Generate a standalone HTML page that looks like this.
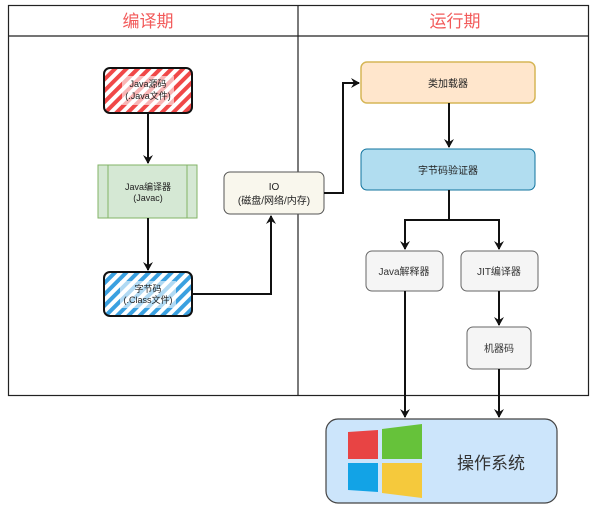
<!DOCTYPE html>
<html><head><meta charset="utf-8"><style>
body{margin:0;background:#fff;}
svg text{font-family:"Liberation Sans","Noto Sans CJK SC",sans-serif;}
</style></head><body>
<svg width="603" height="520" viewBox="0 0 603 520" xmlns="http://www.w3.org/2000/svg">
<defs>
<pattern id="pr" width="8" height="8" patternUnits="userSpaceOnUse" patternTransform="rotate(45)">
<rect width="8" height="8" fill="#fff"/><rect width="4" height="8" fill="#f04848"/></pattern>
<pattern id="pb" width="8" height="8" patternUnits="userSpaceOnUse" patternTransform="rotate(45)">
<rect width="8" height="8" fill="#fff"/><rect width="4" height="8" fill="#3aa0e0"/></pattern>
<marker id="a" markerWidth="10" markerHeight="10" refX="8" refY="5" orient="auto" markerUnits="userSpaceOnUse">
<path d="M0,0 L9,5 L0,10 L3,5 Z" fill="#111"/></marker>
</defs>
<rect x="8.5" y="5.5" width="580" height="390" fill="#fff" stroke="#222" stroke-width="1.2"/>
<line x1="8" y1="36" x2="588" y2="36" stroke="#222" stroke-width="1.2"/>
<line x1="298" y1="5" x2="298" y2="395" stroke="#222" stroke-width="1.2"/>
<text x="148" y="27" font-size="17" fill="#f25a5a" text-anchor="middle">编译期</text>
<text x="455" y="27" font-size="17" fill="#f25a5a" text-anchor="middle">运行期</text>

<rect x="104" y="68" width="88" height="45" rx="6" fill="url(#pr)" stroke="#111" stroke-width="2"/>
<rect x="122" y="76" width="52" height="29" fill="#fff" opacity="0.6"/>
<text x="148" y="87" font-size="9" text-anchor="middle" fill="#222">Java源码</text>
<text x="148" y="99" font-size="9" text-anchor="middle" fill="#222">(.Java文件)</text>

<rect x="98" y="165" width="99" height="53" fill="#d5e8d4" stroke="#82b366"/>
<line x1="108" y1="165" x2="108" y2="218" stroke="#82b366"/>
<line x1="187" y1="165" x2="187" y2="218" stroke="#82b366"/>
<text x="148" y="190" font-size="9" text-anchor="middle" fill="#222">Java编译器</text>
<text x="148" y="201" font-size="9" text-anchor="middle" fill="#222">(Javac)</text>

<rect x="104" y="272" width="88" height="44" rx="6" fill="url(#pb)" stroke="#111" stroke-width="2"/>
<rect x="120" y="281" width="56" height="27" fill="#fff" opacity="0.6"/>
<text x="148" y="292" font-size="9" text-anchor="middle" fill="#222">字节码</text>
<text x="148" y="303" font-size="9" text-anchor="middle" fill="#222">(.Class文件)</text>

<rect x="224" y="172" width="100" height="42" rx="6" fill="#f9f7ed" stroke="#555"/>
<text x="274" y="190" font-size="10" text-anchor="middle" fill="#222">IO</text>
<text x="274" y="204" font-size="10" text-anchor="middle" fill="#222">(磁盘/网络/内存)</text>

<rect x="361" y="62" width="174" height="41" rx="6" fill="#ffe6cc" stroke="#d6b656" stroke-width="1.5"/>
<text x="448" y="87" font-size="10" text-anchor="middle" fill="#222">类加载器</text>
<rect x="361" y="149" width="174" height="41" rx="6" fill="#b1ddf0" stroke="#10739e" stroke-width="1"/>
<text x="448" y="174" font-size="10" text-anchor="middle" fill="#222">字节码验证器</text>

<rect x="366" y="251" width="77" height="40" rx="6" fill="#f5f5f5" stroke="#666"/>
<text x="404" y="275" font-size="10" text-anchor="middle" fill="#333">Java解释器</text>
<rect x="461" y="251" width="77" height="40" rx="6" fill="#f5f5f5" stroke="#666"/>
<text x="499" y="275" font-size="10" text-anchor="middle" fill="#333">JIT编译器</text>
<rect x="467" y="327" width="64" height="42" rx="6" fill="#f5f5f5" stroke="#666"/>
<text x="499" y="352" font-size="10" text-anchor="middle" fill="#333">机器码</text>

<rect x="326" y="419" width="231" height="84" rx="12" fill="#cce5fb" stroke="#444" stroke-width="1.2"/>
<polygon points="348,432 378,430 378,459 348,459" fill="#e84444"/>
<polygon points="382,429 422,424 422,459 382,459" fill="#66c23a"/>
<polygon points="348,463 378,463 378,492 348,490" fill="#12a3e6"/>
<polygon points="382,463 422,463 422,498 382,493" fill="#f5c93c"/>
<text x="491" y="469" font-size="17" text-anchor="middle" fill="#333">操作系统</text>

<g stroke="#111" stroke-width="2" fill="none">
<line x1="148" y1="113" x2="148" y2="163" marker-end="url(#a)"/>
<line x1="148" y1="218" x2="148" y2="270" marker-end="url(#a)"/>
<polyline points="192,294 271,294 271,216" marker-end="url(#a)"/>
<polyline points="324,193 343,193 343,83 359,83" marker-end="url(#a)"/>
<line x1="449" y1="103" x2="449" y2="147" marker-end="url(#a)"/>
<polyline points="449,190 449,220 405,220 405,249" marker-end="url(#a)"/>
<polyline points="449,220 499,220 499,249" marker-end="url(#a)"/>
<line x1="499" y1="291" x2="499" y2="325" marker-end="url(#a)"/>
<line x1="405" y1="291" x2="405" y2="417" marker-end="url(#a)"/>
<line x1="499" y1="369" x2="499" y2="417" marker-end="url(#a)"/>
</g>
</svg>
</body></html>
